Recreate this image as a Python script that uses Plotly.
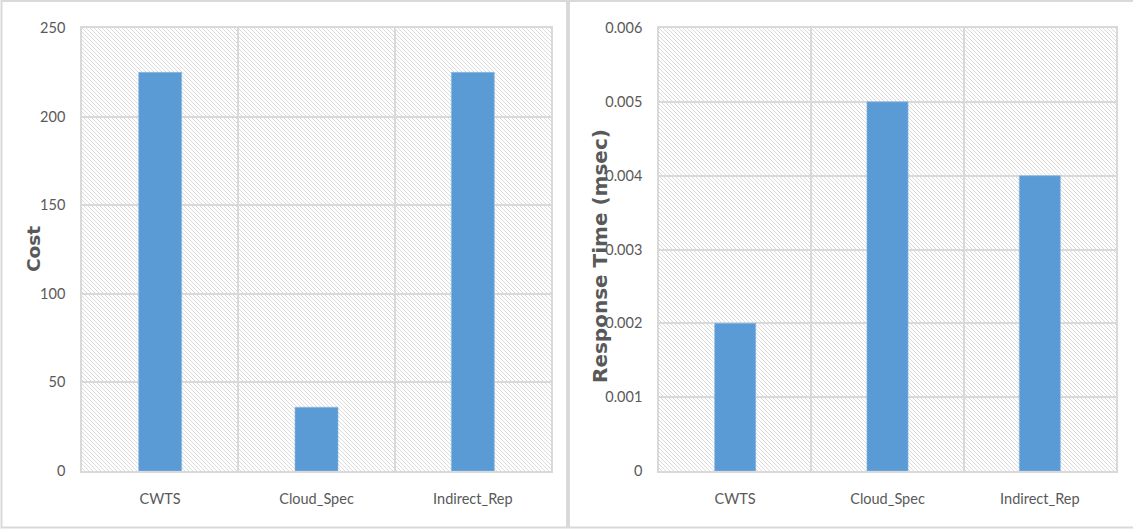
import base64
import plotly.graph_objects as go

# ---- data ----
categories = ["CWTS", "Cloud_Spec", "Indirect_Rep"]
cost_values = [225, 36, 225]
response_time_values = [0.002, 0.005, 0.004]
cost_ticks = [0, 50, 100, 150, 200, 250]
response_ticks = [0, 0.001, 0.002, 0.003, 0.004, 0.005, 0.006]

# ---- page geometry (pixels) ----
W, H = 1133, 531
left_plot = (82, 551)
right_plot = (659, 1116)
plot_top, plot_bottom = 28, 471

BAR_COLOR = "#5b9bd5"
GRID = "#d9d9d9"
TEXT = "#595959"
TICK_FONT = dict(family="Lato, Liberation Sans, sans-serif", size=14.5, color=TEXT)


def px_x(v):
    return v / W


def px_y(v):
    return 1 - v / H


def hatch_svg(width, height, period=4, color="#dadada"):
    """Diagonal (top-left to bottom-right) hatch fill as an SVG data URI."""
    p = period
    svg = (
        f'<svg xmlns="http://www.w3.org/2000/svg" width="{width}" height="{height}" '
        f'viewBox="0 0 {width} {height}" preserveAspectRatio="none">'
        f'<defs><pattern id="h" patternUnits="userSpaceOnUse" width="{p}" height="{p}">'
        f'<rect width="{p}" height="{p}" fill="white"/>'
        f'<path d="M0,0 L{p},{p} M-1,{p-1} L1,{p+1} M{p-1},-1 L{p+1},1" '
        f'stroke="{color}" stroke-width="1"/></pattern></defs>'
        f'<rect width="{width}" height="{height}" fill="url(#h)"/></svg>'
    )
    return "data:image/svg+xml;base64," + base64.b64encode(svg.encode()).decode()


fig = go.Figure()

fig.add_trace(go.Bar(x=categories, y=cost_values, width=0.275,
                     marker=dict(color=BAR_COLOR, line=dict(color="#8fbbe3", width=0.6)),
                     xaxis="x", yaxis="y", showlegend=False))
fig.add_trace(go.Bar(x=categories, y=response_time_values, width=0.27,
                     marker=dict(color=BAR_COLOR, line=dict(color="#8fbbe3", width=0.6)),
                     xaxis="x2", yaxis="y2", showlegend=False))

y_dom = [px_y(plot_bottom), px_y(plot_top)]

xaxis_common = dict(type="category", tickson="boundaries", showgrid=True,
                    gridcolor=GRID, gridwidth=1.5, showline=True, linecolor=GRID,
                    linewidth=1.5, mirror=True, ticks="", tickfont=TICK_FONT,
                    ticklabelstandoff=14, zeroline=False, fixedrange=True,
                    automargin=False)
yaxis_common = dict(showgrid=True, gridcolor=GRID, gridwidth=1.5, showline=True,
                    linecolor=GRID, linewidth=1.5, mirror=True, ticks="",
                    tickfont=TICK_FONT, ticklabelstandoff=12, zeroline=False,
                    fixedrange=True, automargin=False)

fig.update_layout(
    width=W, height=H,
    margin=dict(l=0, r=0, t=0, b=0, autoexpand=False),
    paper_bgcolor="white", plot_bgcolor="white",
    barmode="group",
    xaxis=dict(domain=[px_x(left_plot[0]), px_x(left_plot[1])], anchor="y", **xaxis_common),
    yaxis=dict(domain=y_dom, anchor="x", range=[0, 250], tickvals=cost_ticks,
               **yaxis_common),
    xaxis2=dict(domain=[px_x(right_plot[0]), px_x(right_plot[1])], anchor="y2", **xaxis_common),
    yaxis2=dict(domain=y_dom, anchor="x2", range=[0, 0.006], tickvals=response_ticks,
                ticktext=[f"{v:g}" if v else "0" for v in response_ticks],
                **yaxis_common),
)

# hatched plot-area backgrounds
fig.add_layout_image(dict(source=hatch_svg(left_plot[1] - left_plot[0], plot_bottom - plot_top),
                          xref="x domain", yref="y domain", x=0, y=1, sizex=1, sizey=1,
                          xanchor="left", yanchor="top", sizing="stretch", layer="below"))
fig.add_layout_image(dict(source=hatch_svg(right_plot[1] - right_plot[0], plot_bottom - plot_top),
                          xref="x2 domain", yref="y2 domain", x=0, y=1, sizex=1, sizey=1,
                          xanchor="left", yanchor="top", sizing="stretch", layer="below"))

# axis titles
title_font = dict(family="DejaVu Sans, sans-serif", color=TEXT)
fig.add_annotation(text="<b>Cost</b>", textangle=-90, xref="paper", yref="paper",
                   x=px_x(33), y=px_y(249), xanchor="center", yanchor="middle",
                   showarrow=False, font=dict(size=18.5, **title_font))
fig.add_annotation(text="<b>Response Time (msec)</b>", textangle=-90, xref="paper",
                   yref="paper", x=px_x(600), y=px_y(256), xanchor="center",
                   yanchor="middle", showarrow=False, font=dict(size=20, **title_font))

# chart panel frames
frame = dict(color="#d9d9d9", width=2)
fig.add_shape(type="rect", xref="paper", yref="paper",
              x0=px_x(1.5), x1=px_x(567), y0=px_y(527.5), y1=px_y(1), line=frame)
fig.add_shape(type="rect", xref="paper", yref="paper",
              x0=px_x(569), x1=px_x(1140), y0=px_y(527.5), y1=px_y(1), line=frame)

fig.write_html("out.html")
